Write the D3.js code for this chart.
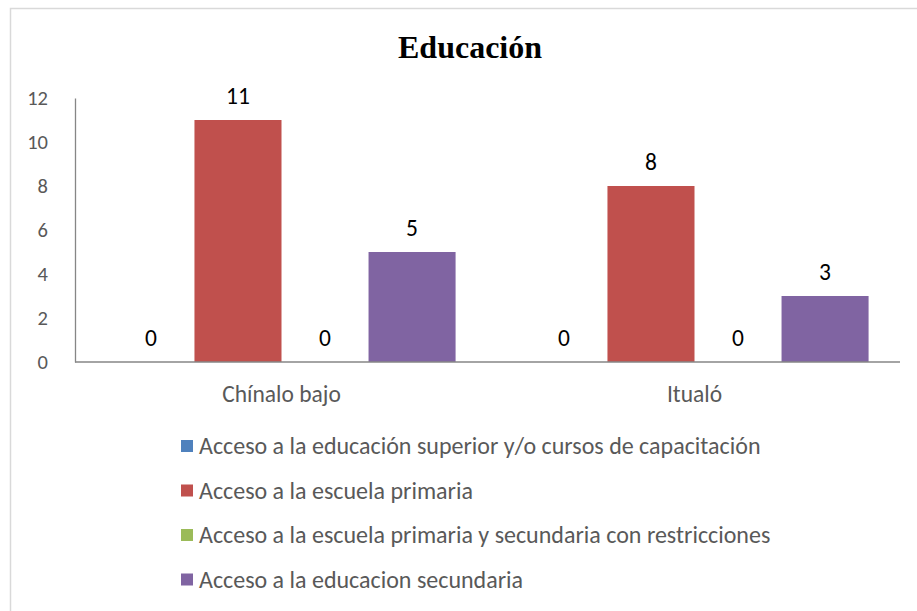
<!DOCTYPE html>
<html>
<head>
<meta charset="utf-8">
<script src="https://cdn.jsdelivr.net/npm/d3@7/dist/d3.min.js"></script>
<style>
  html, body { margin: 0; padding: 0; background: #fff; }
  svg { display: block; }
</style>
</head>
<body>
<svg id="chart" width="917" height="611"></svg>
<script>
// Chart data
const title = "Educación";
const categories = ["Chínalo bajo", "Itualó"];
const seriesNames = [
  "Acceso a la educación superior y/o cursos de capacitación",
  "Acceso a la escuela primaria",
  "Acceso a la escuela primaria y secundaria con restricciones",
  "Acceso a la educacion secundaria"
];
const superiorValues   = [0, 0];
const primariaValues   = [11, 8];
const restringidaValues = [0, 0];
const secundariaValues = [5, 3];
const yTicks = [0, 2, 4, 6, 8, 10, 12];
const seriesColors = ["#4F81BD", "#C0504D", "#9BBB59", "#8064A2"];

const seriesValues = [superiorValues, primariaValues, restringidaValues, secundariaValues];

const svg = d3.select("#chart");
const labelFont = "Carlito, 'Liberation Sans', Arial, sans-serif";

// Outer chart frame
svg.append("rect")
  .attr("x", 10.5).attr("y", 8.5)
  .attr("width", 930).attr("height", 620)
  .attr("fill", "#fff")
  .attr("stroke", "#d9d9d9").attr("stroke-width", 1.5);

// Title
svg.append("text")
  .attr("x", 470).attr("y", 58)
  .attr("text-anchor", "middle")
  .attr("font-family", "'Liberation Serif', 'Times New Roman', serif")
  .attr("font-weight", "bold")
  .attr("font-size", 32)
  .attr("fill", "#000")
  .text(title);

// Scales
const plotLeft = 75, plotRight = 901, plotTop = 98, plotBottom = 362;
const x0 = d3.scaleBand()
  .domain(categories)
  .range([plotLeft, plotRight])
  .paddingInner(0.157)
  .paddingOuter(0.0785);
const x1 = d3.scaleBand()
  .domain(d3.range(seriesNames.length))
  .range([0, x0.bandwidth()]);
const y = d3.scaleLinear().domain([0, 12]).range([plotBottom, plotTop]);

// Y axis
const yAxis = d3.axisLeft(y).tickValues(yTicks).tickSize(0).tickPadding(27);
const gy = svg.append("g").attr("transform", `translate(${plotLeft},0)`).call(yAxis);
gy.select(".domain").attr("stroke", "#868686").attr("stroke-width", 1.3);
gy.selectAll("text")
  .attr("font-family", labelFont)
  .attr("font-size", 20.5)
  .attr("fill", "#595959");

// Bars
const groups = svg.append("g").selectAll("g")
  .data(categories)
  .join("g")
  .attr("transform", d => `translate(${x0(d)},0)`);

groups.selectAll("rect")
  .data((c, ci) => seriesValues.map((vals, si) => ({ si, v: vals[ci] })))
  .join("rect")
  .attr("x", d => x1(d.si))
  .attr("width", x1.bandwidth())
  .attr("y", d => y(d.v))
  .attr("height", d => y(0) - y(d.v))
  .attr("fill", d => seriesColors[d.si]);

// Value labels
groups.selectAll("text.val")
  .data((c, ci) => seriesValues.map((vals, si) => ({ si, v: vals[ci] })))
  .join("text")
  .attr("class", "val")
  .attr("x", d => x1(d.si) + x1.bandwidth() / 2)
  .attr("y", d => y(d.v) - 16)
  .attr("text-anchor", "middle")
  .attr("font-family", labelFont)
  .attr("font-size", 23.5)
  .attr("fill", "#000")
  .text(d => d.v);

// X axis
const xAxis = d3.axisBottom(x0).tickSize(0).tickPadding(23).tickSizeOuter(0);
const gx = svg.append("g").attr("transform", `translate(0,${plotBottom})`).call(xAxis);
gx.select(".domain").attr("stroke", "#868686").attr("stroke-width", 1.3)
  .attr("d", `M${plotLeft},0H${plotRight - 1}`);
gx.selectAll("text")
  .attr("font-family", labelFont)
  .attr("font-size", 23.5)
  .attr("fill", "#595959");

// Legend
const legendY = d3.scalePoint().domain(d3.range(seriesNames.length)).range([446.5, 580]);
const legend = svg.append("g").selectAll("g")
  .data(seriesNames)
  .join("g")
  .attr("transform", (d, i) => `translate(181,${legendY(i)})`);
legend.append("rect")
  .attr("x", 0).attr("y", -6.5)
  .attr("width", 12).attr("height", 12)
  .attr("fill", (d, i) => seriesColors[i]);
legend.append("text")
  .attr("x", 18).attr("y", 7.5)
  .attr("font-family", labelFont)
  .attr("font-size", 24)
  .attr("fill", "#595959")
  .text(d => d);
</script>
</body>
</html>
